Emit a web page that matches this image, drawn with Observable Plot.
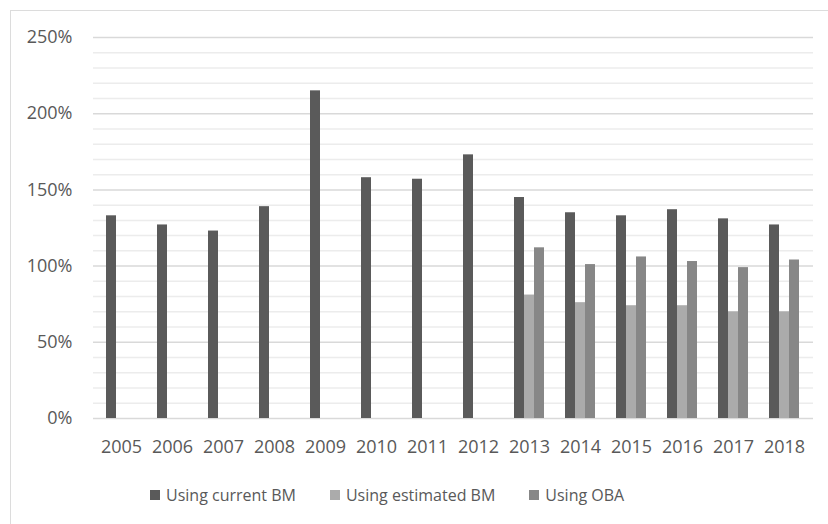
<!DOCTYPE html>
<html>
<head>
<meta charset="utf-8">
<script src="https://cdn.jsdelivr.net/npm/d3@7"></script>
<script src="https://cdn.jsdelivr.net/npm/@observablehq/plot@0.6"></script>
<style>
  html, body { margin: 0; padding: 0; background: #fff; }
  #chart {
    position: relative;
    width: 828px;
    height: 524px;
    overflow: hidden;
    font-family: "Open Sans", sans-serif;
    color: #595959;
  }
  #frame {
    position: absolute;
    left: 10px;
    top: 10px;
    width: 840px;
    height: 540px;
    border-top: 1.5px solid #dcdcdc;
    border-left: 1.5px solid #dcdcdc;
    box-sizing: border-box;
  }
  .layer { position: absolute; left: 0; top: 0; }
  #legend {
    position: absolute;
    left: 150px;
    top: 484px;
    display: flex;
    align-items: center;
    font-size: 16px;
    white-space: nowrap;
  }
  .item { display: flex; align-items: center; margin-right: 34px; }
  .swatch { width: 10px; height: 10px; margin-right: 6px; }
</style>
</head>
<body>
<div id="chart">
  <div id="frame"></div>
  <div id="grid" class="layer"></div>
  <div id="bars" class="layer"></div>
  <div id="legend"></div>
</div>
<script>
// Ratios by year, in percent
const years = ["2005","2006","2007","2008","2009","2010","2011","2012","2013","2014","2015","2016","2017","2018"];
const seriesNames = ["Using current BM", "Using estimated BM", "Using OBA"];
const seriesColors = ["#5a5a5a", "#ababab", "#878787"];
const currentBM   = [133, 127, 123, 139, 215, 158, 157, 173, 145, 135, 133, 137, 131, 127];
const estimatedBM = [null, null, null, null, null, null, null, null, 81, 76, 74, 74, 70, 70];
const usingOBA    = [null, null, null, null, null, null, null, null, 112, 101, 106, 103, 99, 104];
const yTicks = [0, 50, 100, 150, 200, 250];
const minorTicks = d3.range(10, 250, 10).filter(v => v % 50 !== 0);

const seriesValues = [currentBM, estimatedBM, usingOBA];
const rows = [];
years.forEach((year, i) => {
  seriesNames.forEach((name, s) => {
    const v = seriesValues[s][i];
    if (v != null) rows.push({year, series: name, value: v});
  });
});

const labelFont = {fontSize: 18, fill: "#595959"};

// Shared frame for both layers
const frame = {
  width: 828,
  height: 470,
  marginLeft: 93,
  marginRight: 15,
  marginTop: 37,
  marginBottom: 52,
  style: {fontFamily: "Open Sans, sans-serif", fontSize: "18px", color: "#595959", background: "transparent"}
};

// Back layer: continuous gridlines and the percentage axis
const gridLayer = Plot.plot({
  ...frame,
  x: {domain: [0, 1], axis: null},
  y: {domain: [0, 250], label: null},
  marks: [
    Plot.ruleY(minorTicks, {stroke: "#ececec", strokeWidth: 1.5}),
    Plot.ruleY(yTicks, {stroke: "#d9d9d9", strokeWidth: 1.5}),
    Plot.axisY({ticks: yTicks, tickSize: 0, tickPadding: 21, tickFormat: d => d + "%", label: null, ...labelFont})
  ]
});
document.getElementById("grid").appendChild(gridLayer);

// Front layer: bars grouped by year, one slot per series
const barLayer = Plot.plot({
  ...frame,
  fx: {domain: years, paddingInner: 0.37, paddingOuter: 0.2, label: null},
  x: {domain: seriesNames, padding: 0, axis: null},
  y: {domain: [0, 250], axis: null},
  color: {domain: seriesNames, range: seriesColors},
  marks: [
    Plot.barY(rows, {fx: "year", x: "series", y: "value", fill: "series", insetLeft: 0, insetRight: 0}),
    Plot.axisFx({anchor: "bottom", tickSize: 0, tickPadding: 22, label: null, ...labelFont})
  ]
});
document.getElementById("bars").appendChild(barLayer);

// Legend
const legend = document.getElementById("legend");
seriesNames.forEach((name, i) => {
  const item = document.createElement("div");
  item.className = "item";
  const sw = document.createElement("span");
  sw.className = "swatch";
  sw.style.background = seriesColors[i];
  const label = document.createElement("span");
  label.textContent = name;
  item.appendChild(sw);
  item.appendChild(label);
  legend.appendChild(item);
});
</script>
</body>
</html>
